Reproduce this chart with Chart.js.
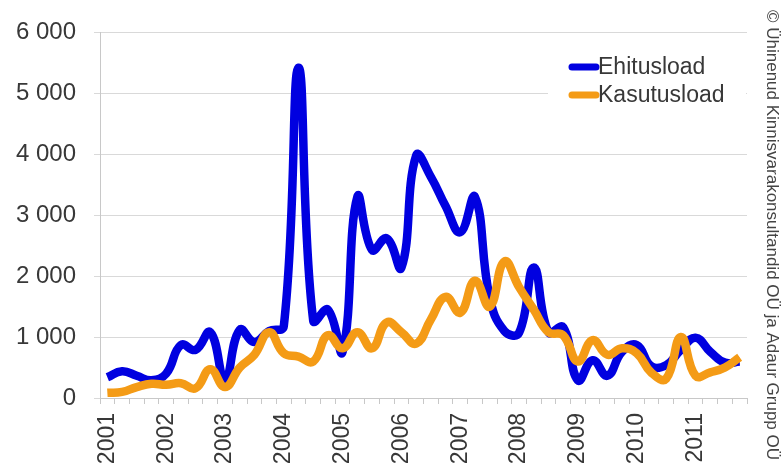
<!DOCTYPE html>
<html>
<head>
<meta charset="utf-8">
<script src="https://cdn.jsdelivr.net/npm/chart.js@4.4.0/dist/chart.umd.min.js"></script>
<style>
  html, body { margin: 0; padding: 0; background: #fff; }
  #wrap { width: 782px; height: 470px; }
</style>
</head>
<body>
<div id="wrap"><canvas id="permits" width="782" height="470"></canvas></div>
<script>
// kvartalid 2001 I kv - 2011 IV kv
const years = ['2001', '2002', '2003', '2004', '2005', '2006', '2007', '2008', '2009', '2010', '2011'];
const quarters = ['I', 'II', 'III', 'IV'];
const yTicks = [0, 1000, 2000, 3000, 4000, 5000, 6000];

const ehitusload = [
    340, 440, 365, 290, 400, 870, 790, 1080, 300, 1120, 920, 1100,
    1180, 5420, 1270, 1450, 760, 3300, 2430, 2620, 2140, 3980, 3630, 3150,
    2720, 3300, 1650, 1100, 1070, 2140, 1080, 1160, 290, 620, 365, 760,
    870, 520, 540, 790, 990, 760, 580, 600
];
const kasutusload = [
    85, 100, 180, 233, 217, 243, 160, 471, 180, 500, 710, 1080,
    735, 680, 600, 1030, 815, 1080, 815, 1240, 1080, 894, 1290, 1660,
    1400, 1925, 1500, 2240, 1820, 1450, 1080, 1030, 600, 950, 710, 815,
    735, 415, 315, 1000, 365, 420, 500, 670
];

const labels = [];
years.forEach(y => quarters.forEach(q => labels.push(y + ' ' + q)));

const textColor = '#383838';
const gridColor = '#d9d9d9';
const fontFamily = '"Liberation Sans", Arial, sans-serif';

function spaced(v) {
    return String(v).replace(/\B(?=(\d{3})+(?!\d))/g, ' ');
}

// legend inside the plot + copyright text on the right
const extras = {
    id: 'extras',
    afterDraw(chart) {
        const ctx = chart.ctx;
        ctx.save();
        ctx.fillStyle = '#fff';
        ctx.fillRect(548, 44, 198, 66);
        const items = [
            { text: 'Ehitusload', color: '#0000e0', y: 67 },
            { text: 'Kasutusload', color: '#f49b16', y: 95 }
        ];
        ctx.lineCap = 'round';
        ctx.lineWidth = 7;
        ctx.font = '23px ' + fontFamily;
        ctx.textBaseline = 'middle';
        items.forEach(it => {
            ctx.strokeStyle = it.color;
            ctx.beginPath();
            ctx.moveTo(572, it.y);
            ctx.lineTo(596, it.y);
            ctx.stroke();
            ctx.fillStyle = textColor;
            ctx.fillText(it.text, 598, it.y + 1);
        });
        ctx.translate(772, 10);
        ctx.rotate(Math.PI / 2);
        ctx.font = '17px ' + fontFamily;
        ctx.textBaseline = 'middle';
        ctx.fillStyle = '#444';
        ctx.fillText('© Ühinenud Kinnisvarakonsultandid OÜ ja Adaur Grupp OÜ', 0, 0);
        ctx.restore();
    }
};

new Chart(document.getElementById('permits').getContext('2d'), {
    type: 'line',
    data: {
        labels: labels,
        datasets: [{
            label: 'Ehitusload',
            data: ehitusload,
            borderColor: '#0000e0',
            borderWidth: 8.5,
            tension: 0.45,
            pointRadius: 0,
            order: 1
        }, {
            label: 'Kasutusload',
            data: kasutusload,
            borderColor: '#f49b16',
            borderWidth: 8.5,
            tension: 0.45,
            pointRadius: 0,
            order: 0
        }]
    },
    options: {
        responsive: false,
        animation: false,
        layout: { autoPadding: false, padding: { top: 20, right: 35, left: 0, bottom: 0 } },
        plugins: { legend: { display: false }, tooltip: { enabled: false } },
        scales: {
            x: {
                offset: true,
                afterFit: s => { s.height = 72; },
                grid: { offset: true, drawOnChartArea: false, color: '#c8c8c8', tickLength: 6 },
                border: { color: '#c8c8c8' },
                ticks: {
                    autoSkip: false,
                    maxRotation: 90,
                    minRotation: 90,
                    padding: 9,
                    color: textColor,
                    font: { family: fontFamily, size: 23 },
                    callback: function (v, i) { return i % 4 === 0 ? years[i / 4] : ''; }
                }
            },
            y: {
                min: 0,
                max: 6000,
                afterFit: s => { s.width = 100; },
                afterBuildTicks: s => { s.ticks = yTicks.map(v => ({ value: v })); },
                grid: { color: gridColor, tickLength: 6 },
                border: { color: '#c8c8c8' },
                ticks: {
                    padding: 18,
                    color: textColor,
                    font: { family: fontFamily, size: 24 },
                    callback: v => spaced(v)
                }
            }
        }
    },
    plugins: [extras]
});
</script>
</body>
</html>
